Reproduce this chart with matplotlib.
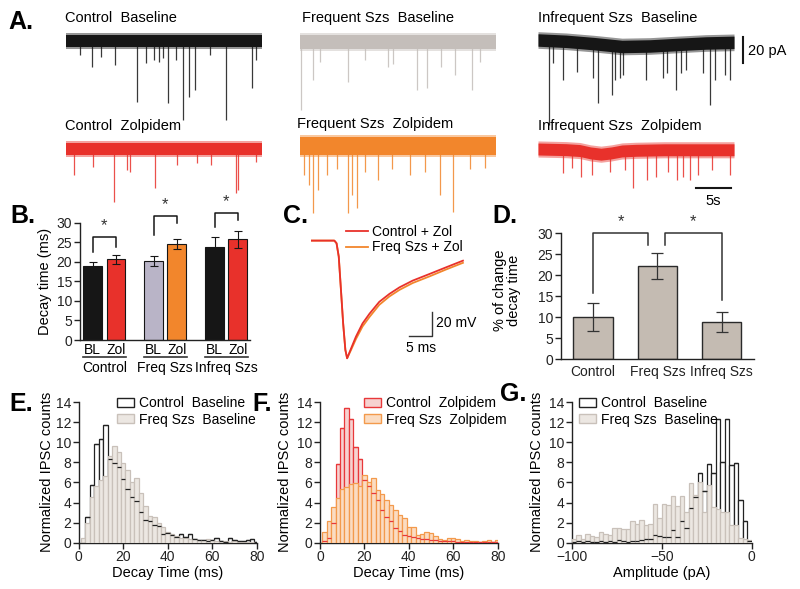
import matplotlib
matplotlib.use("Agg")
import matplotlib.pyplot as plt
from matplotlib.patches import Patch
from matplotlib.lines import Line2D
import numpy as np

plt.rcParams["font.family"] = ["Liberation Sans", "DejaVu Sans"]

W, H = 800, 589

BLACK = "#161616"
GRAY_TRACE = "#c4beba"
RED = "#e8312b"
ORANGE = "#f2862c"
LAVENDER = "#b9b4c7"
BEIGE = "#c4bbb2"

# ---------------- A. example traces (time in s, current in pA) ----------------
ctrl_bl_base_t = [0, 28]
ctrl_bl_base = [0, 0]
ctrl_bl_ev_t = [2.0, 3.7, 5.0, 7.0, 10.1, 11.4, 12.6, 13.3, 13.9, 14.6, 15.7, 16.7, 17.6,
                18.4, 20.6, 22.8, 26.5, 27.1]
ctrl_bl_ev_amp = [-10.8, -19.8, -12, -18.5, -46.7, -17, -14.6, -16, -13, -47.7, -14.6, -60.8,
                  -43, -37.7, -10.8, -60.8, -36, -14.6]

ctrl_zol_base_t = [0, 28]
ctrl_zol_base = [0, 0]
ctrl_zol_ev_t = [1.1, 3.8, 6.9, 8.7, 9.2, 12.7, 15.8, 18.7, 20.7, 24.3, 24.6, 27.2]
ctrl_zol_ev_amp = [-20, -13.8, -40.8, -16, -17.7, -30, -12.3, -10.8, -12.3, -33.8, -31.5, -10]

freq_bl_base_t = [0, 28]
freq_bl_base = [0, 0]
freq_bl_ev_t = [0.15, 1.8, 2.9, 6.9, 9.3, 12.6, 13.3, 16.7, 18.1, 20.2, 22.1, 24.5, 25.7]
freq_bl_ev_amp = [-52, -29, -15, -30.5, -14, -19, -17, -37, -35, -19, -25, -37, -15]

freq_zol_base_t = [0, 28]
freq_zol_base = [0, 0]
freq_zol_ev_t = [0.6, 1.3, 1.9, 2.6, 3.9, 5.3, 6.9, 7.4, 8.1, 9.3, 11.1, 13.1, 15.7, 17.9,
                 20.0, 21.9, 24.3, 26.4]
freq_zol_ev_amp = [-22, -30, -51.5, -34, -22, -18, -51.5, -37.7, -47.7, -20, -26, -18, -22,
                   -20, -37.7, -50.8, -18, -16.9]

infreq_bl_base_t = [0, 4, 8, 12, 16, 20, 24, 28]
infreq_bl_base = [0, -1.0, -2.8, -5.0, -4.6, -3.4, -2.3, -1.8]
infreq_bl_ev_t = [1.5, 2.1, 3.6, 5.5, 7.9, 8.6, 10.6, 11.0, 11.7, 12.1, 15.4, 17.9, 18.4, 19.7,
                  20.4, 21.2, 23.6, 24.6, 25.3, 26.7, 27.4]
infreq_bl_ev_amp = [-65, -17.7, -30.8, -24.6, -29, -48.5, -42.3, -30.8, -29, -27, -30.8, -29,
                    -25.4, -38.5, -25.4, -23, -25.4, -50, -30.8, -27, -30.8]

infreq_zol_base_t = [0, 4, 6, 7.5, 9, 10.5, 12, 14, 18, 22, 28]
infreq_zol_base = [0, -0.5, -1.2, -3.0, -4.0, -3.0, -1.5, -1.0, -0.6, -0.6, -0.6]
infreq_zol_ev_t = [3.6, 4.9, 6.2, 7.7, 10.3, 12.4, 13.6, 15.5, 16.9, 18.6, 19.8, 20.7, 21.7,
                   22.9, 24.9, 27.4]
infreq_zol_ev_amp = [-18.5, -14.6, -21.5, -20, -17.7, -16, -30, -23.8, -21.5, -17.7, -23.8,
                     -21.5, -23.8, -20, -16, -20]

# ---------------- B. decay time (ms) ----------------
b_groups = ["Control", "Freq Szs", "Infreq Szs"]
b_bl_mean = [18.8, 20.2, 23.9]
b_bl_sem = [1.2, 1.3, 2.4]
b_zol_mean = [20.6, 24.6, 25.8]
b_zol_sem = [1.1, 1.2, 2.2]
b_bl_colors = [BLACK, LAVENDER, BLACK]
b_zol_colors = [RED, ORANGE, RED]
b_bracket_top = [26.4, 31.7, 32.4]
b_bracket_left = [22.6, 26.9, 29.0]
b_bracket_right = [23.9, 29.8, 30.7]

# ---------------- C. averaged IPSCs ----------------
ipsc_t = [0, 5.3, 5.8, 6.3, 6.8, 7.3, 7.8, 8.2, 9.1, 10.2, 11.7, 13.3, 15.5, 17.8, 20.1,
          23.1, 26.9, 30.7, 34.5]
ctrl_zol_ipsc = [0, 0, -2.2, -13.3, -41, -69, -91, -98, -89.8, -80, -69, -60.8, -51, -44.4,
                 -38.9, -33.3, -27.8, -22.2, -16.7]
freq_zol_ipsc = [0, 0, -2.2, -13.3, -41, -69, -91, -98, -91, -82, -71.5, -63.5, -53.5, -46.5,
                 -41, -35.3, -29.8, -24, -18.5]

# ---------------- D. % change of decay time ----------------
d_groups = ["Control", "Freq Szs", "Infreq Szs"]
d_mean = [10.1, 22.2, 8.9]
d_sem = [3.4, 3.1, 2.4]

# ---------------- E/F. decay time histograms ----------------
decay_centers = np.arange(2, 81, 2)
e_ctrl_bl = [0.0, 2.6, 5.7, 9.8, 10.3, 11.7, 8.3, 7.9, 7.5, 6.3, 5.3, 4.5, 4.1, 3.1, 2.3, 2.2,
             1.8, 1.7, 0.9, 1.0, 0.8, 0.6, 0.9, 0.6, 0.9, 0.4, 0.3, 0.3, 0.2, 0.3, 0.5, 0.2,
             0.1, 0.5, 0.3, 0.2, 0.2, 0.3, 0.4, 0.1]
e_freq_bl = [0.5, 2.0, 4.5, 5.6, 6.2, 6.6, 8.6, 9.6, 9.0, 7.9, 7.2, 6.0, 6.4, 4.9, 3.7, 2.7,
             2.6, 2.0, 1.6, 1.1, 0.9, 0.7, 0.5, 0.5, 0.4, 0.4, 0.3, 0.3, 0.4, 0.3, 0.2, 0.2,
             0.2, 0.1, 0.2, 0.1, 0.1, 0.1, 0.1, 0.1]
f_ctrl_zol = [0.2, 0.5, 2.0, 7.8, 11.4, 13.4, 12.3, 9.5, 8.3, 6.2, 5.6, 4.9, 4.2, 3.3, 2.6,
              2.2, 1.5, 1.2, 0.8, 0.7, 0.6, 0.5, 0.4, 0.4, 0.3, 0.3, 0.2, 0.2, 0.2, 0.2, 0.1,
              0.1, 0.1, 0.1, 0.1, 0.1, 0.1, 0.1, 0.1, 0.1]
f_freq_zol = [1.1, 2.2, 3.6, 4.4, 5.3, 5.5, 5.8, 5.9, 5.6, 6.7, 6.0, 6.4, 5.2, 4.8, 4.2, 3.8,
              3.3, 2.8, 2.5, 1.6, 1.6, 0.8, 0.9, 1.1, 1.0, 0.7, 0.4, 0.3, 0.5, 0.5, 0.4, 0.2,
              0.3, 0.2, 0.2, 0.1, 0.2, 0.3, 0.1, 0.3]

# ---------------- G. amplitude histogram ----------------
amp_centers = np.arange(-98.75, 0, 2.5)
g_ctrl_bl = [0.1, 0.2, 0.1, 0.2, 0.1, 0.1, 0.2, 0.1, 0.2, 0.1, 0.3, 0.2, 0.1, 0.2, 0.2, 0.3,
             0.4, 0.4, 0.8, 0.7, 0.6, 0.6, 1.3, 0.6, 2.2, 1.5, 3.5, 4.5, 6.9, 5.1, 7.8, 6.9,
             12.3, 8.0, 12.3, 7.7, 7.9, 4.2, 2.2, 0.2]
g_freq_bl = [0.4, 0.8, 0.4, 0.9, 0.7, 0.6, 1.1, 0.9, 0.8, 1.5, 1.5, 1.4, 1.4, 2.2, 1.9, 2.3,
             1.8, 1.9, 3.9, 2.5, 3.9, 3.8, 4.6, 3.7, 4.6, 3.1, 5.9, 4.7, 6.0, 3.1, 5.7, 3.6,
             3.4, 3.1, 3.1, 1.8, 1.8, 0.5, 0.4, 0.3]


def px_axes(fig, left, top, right, bottom):
    return fig.add_axes([left / W, 1 - bottom / H, (right - left) / W, (bottom - top) / H])


def ftext(fig, x, y, s, **kw):
    kw.setdefault("va", "center")
    return fig.text(x / W, 1 - y / H, s, **kw)


def draw_trace(fig, x0, zero_y, color, base_t, base, half, ev_t, ev_amp):
    # 7 px per second, 1.3 px per pA
    ax = px_axes(fig, x0, zero_y - 15, x0 + 196, zero_y + 95)
    ax.set_xlim(0, 28)
    ax.set_ylim(-95 / 1.3, 15 / 1.3)
    ax.set_axis_off()
    base = np.asarray(base, float)
    ax.fill_between(base_t, base - half - 1.6, base + half + 1.6, color=color, lw=0, alpha=0.45)
    ax.fill_between(base_t, base - half, base + half, color=color, lw=0)
    start = np.interp(ev_t, base_t, base)
    ax.vlines(ev_t, ev_amp, start, color=color, lw=0.9, alpha=0.85)
    return ax


def hist_pair(ax, centers, back, front, width, back_edge, back_face, front_edge, front_face):
    ax.bar(centers, back, width, color=back_face, edgecolor=back_edge, lw=0.9, zorder=2)
    ax.bar(centers, front, width, color=front_face, edgecolor=front_edge, lw=0.9, zorder=3)
    ax.hlines(back, centers - width / 2, centers + width / 2, color=back_edge, lw=0.9, zorder=4)


def style_axes(ax):
    for side in ["top", "right"]:
        ax.spines[side].set_visible(False)
    for side in ["left", "bottom"]:
        ax.spines[side].set_linewidth(1.0)
        ax.spines[side].set_color("#222222")
    ax.tick_params(direction="out", length=4, width=1, labelsize=10, pad=1.5, colors="#222222")


def main():
    fig = plt.figure(figsize=(W / 100, H / 100), dpi=100)

    # ---- A ----
    ftext(fig, 8, 22, "A.", fontsize=18, fontweight="bold")
    draw_trace(fig, 66, 41, BLACK, ctrl_bl_base_t, ctrl_bl_base, 4.6, ctrl_bl_ev_t, ctrl_bl_ev_amp)
    draw_trace(fig, 66, 149, RED, ctrl_zol_base_t, ctrl_zol_base, 4.6, ctrl_zol_ev_t, ctrl_zol_ev_amp)
    draw_trace(fig, 300, 42, GRAY_TRACE, freq_bl_base_t, freq_bl_base, 5.6, freq_bl_ev_t, freq_bl_ev_amp)
    draw_trace(fig, 300, 146, ORANGE, freq_zol_base_t, freq_zol_base, 6.6, freq_zol_ev_t, freq_zol_ev_amp)
    ax_ib = draw_trace(fig, 538, 40, BLACK, infreq_bl_base_t, infreq_bl_base, 4.8,
                       infreq_bl_ev_t, infreq_bl_ev_amp)
    ax_iz = draw_trace(fig, 538, 149, RED, infreq_zol_base_t, infreq_zol_base, 4.6,
                       infreq_zol_ev_t, infreq_zol_ev_amp)
    ax_ib.plot([29.3, 29.3], [2.3, -17.7], color=BLACK, lw=1.5, clip_on=False)
    ax_iz.plot([22.6, 27.6], [-30, -30], color=BLACK, lw=1.5, clip_on=False)
    ftext(fig, 748, 51, "20 pA", fontsize=10.5)
    ftext(fig, 713, 201, "5s", fontsize=10.5, ha="center")

    ts = 10.5
    ftext(fig, 65, 18, "Control  Baseline", fontsize=ts)
    ftext(fig, 65, 126, "Control  Zolpidem", fontsize=ts)
    ftext(fig, 302, 18, "Frequent Szs  Baseline", fontsize=ts)
    ftext(fig, 297, 124, "Frequent Szs  Zolpidem", fontsize=ts)
    ftext(fig, 538, 18, "Infrequent Szs  Baseline", fontsize=ts)
    ftext(fig, 538, 126, "Infrequent Szs  Zolpidem", fontsize=ts)

    # ---- B ----
    ftext(fig, 10, 216, "B.", fontsize=18, fontweight="bold")
    axb = px_axes(fig, 80, 222.7, 250, 340)
    style_axes(axb)
    gx = np.arange(len(b_groups))
    off, bw = 0.19, 0.31
    axb.bar(gx - off, b_bl_mean, bw, color=b_bl_colors, edgecolor=BLACK, lw=0.8,
            yerr=b_bl_sem, error_kw=dict(ecolor=BLACK, elinewidth=0.8, capsize=3, capthick=0.8))
    axb.bar(gx + off, b_zol_mean, bw, color=b_zol_colors, edgecolor=BLACK, lw=0.8,
            yerr=b_zol_sem, error_kw=dict(ecolor=BLACK, elinewidth=0.8, capsize=3, capthick=0.8))
    axb.set_xlim(-0.40, 2.39)
    axb.set_ylim(0, 30)
    axb.set_yticks(range(0, 31, 5))
    axb.set_xticks([])
    axb.set_ylabel("Decay time (ms)", fontsize=10.5)
    axb.yaxis.set_label_coords(-0.165, 0.5)
    tr = axb.get_xaxis_transform()
    for i, g in enumerate(b_groups):
        xl, xr = i - off, i + off
        axb.plot([xl, xl, xr, xr], [b_bracket_left[i], b_bracket_top[i], b_bracket_top[i],
                                    b_bracket_right[i]], color=BLACK, lw=1.1, clip_on=False)
        axb.text(i, b_bracket_top[i] + 1.0, "*", ha="center", va="bottom", fontsize=12,
                 color="#333333")
        axb.text(xl, -0.085, "BL", transform=tr, ha="center", va="center", fontsize=10)
        axb.text(xr, -0.085, "Zol", transform=tr, ha="center", va="center", fontsize=10)
        axb.plot([i - 0.35, i + 0.35], [-0.145, -0.145], transform=tr, color="#333333",
                 lw=1.2, clip_on=False)
        axb.text(i, -0.24, g, transform=tr, ha="center", va="center", fontsize=10)

    # ---- C ----
    ftext(fig, 283, 216, "C.", fontsize=18, fontweight="bold")
    axc = px_axes(fig, 311, 225, 470, 365)
    axc.set_xlim(0, 36.1)
    axc.set_ylim(-103.6, 13)
    axc.set_axis_off()
    axc.plot(ipsc_t, freq_zol_ipsc, color=ORANGE, lw=1.3)
    axc.plot(ipsc_t, ctrl_zol_ipsc, color=RED, lw=1.3)
    axc.plot([27.4, 27.4, 22.3], [-59.2, -79.2, -79.2], color="#333333", lw=1.0)
    axc.text(28.4, -69, "20 mV", fontsize=10, va="center")
    axc.text(24.9, -84, "5 ms", fontsize=10, va="top", ha="center")
    handles = [Line2D([], [], color=RED, lw=1.3), Line2D([], [], color=ORANGE, lw=1.3)]
    axc.legend(handles, ["Control + Zol", "Freq Szs + Zol"], loc="upper left",
               bbox_to_anchor=(346 / W, 1 - 225 / H), bbox_transform=fig.transFigure,
               frameon=False, fontsize=10, handlelength=1.6, handletextpad=0.3,
               labelspacing=0.1, borderpad=0, borderaxespad=0)

    # ---- D ----
    ftext(fig, 492, 216, "D.", fontsize=18, fontweight="bold")
    axd = px_axes(fig, 560.7, 233.3, 754, 359.3)
    style_axes(axd)
    dx = np.arange(len(d_groups))
    axd.bar(dx, d_mean, 0.61, color=BEIGE, edgecolor="#2a2a2a", lw=1.0, yerr=d_sem,
            error_kw=dict(ecolor="#333333", elinewidth=0.9, capsize=4, capthick=0.9))
    axd.set_xlim(-0.5, 2.5)
    axd.set_ylim(0, 30)
    axd.set_yticks(range(0, 31, 5))
    axd.set_xticks(dx)
    axd.set_xticklabels(d_groups)
    axd.tick_params(axis="x", length=0, pad=4)
    axd.set_ylabel("% of change\ndecay time", fontsize=10.5, linespacing=1.0)
    axd.yaxis.set_label_coords(-0.205, 0.55)
    d_pairs = [(0, 0.86, 15.7, 27.2), (1.12, 2, 27.2, 14.1)]
    for xl, xr, yl, yr in d_pairs:
        axd.plot([xl, xl, xr, xr], [yl, 30, 30, yr], color="#333333", lw=1.1, clip_on=False)
        axd.text((xl + xr) / 2, 31.0, "*", ha="center", va="bottom", fontsize=12, color="#333333")

    # ---- E / F / G ----
    hist_axes = []
    for left, right in [(78.7, 256.7), (320, 497.7), (571.7, 751.7)]:
        ax = px_axes(fig, left, 402, right, 542.7)
        style_axes(ax)
        ax.set_ylim(0, 14)
        ax.set_yticks(range(0, 15, 2))
        ax.set_ylabel("Normalized IPSC counts", fontsize=10.5)
        hist_axes.append(ax)
    axe, axf, axg = hist_axes

    ftext(fig, 9, 404, "E.", fontsize=18, fontweight="bold")
    hist_pair(axe, decay_centers, e_ctrl_bl, e_freq_bl, 2.0, "#222222", "white", "#c9c1ba", "#ece7e2")
    ftext(fig, 252, 404, "F.", fontsize=18, fontweight="bold")
    hist_pair(axf, decay_centers, f_ctrl_zol, f_freq_zol, 2.0, "#e8383a", "#f6d2d0", "#f39a4c", "#fbdcc2")
    ftext(fig, 500, 394, "G.", fontsize=18, fontweight="bold")
    hist_pair(axg, amp_centers, g_ctrl_bl, g_freq_bl, 2.5, "#222222", "white", "#c9c1ba", "#ece7e2")

    for ax in (axe, axf):
        ax.set_xlim(0, 80)
        ax.set_xticks(range(0, 81, 20))
        ax.set_xlabel("Decay Time (ms)", fontsize=10.5, labelpad=1)
    axg.set_xlim(-100, 0)
    axg.set_xticks([-100, -50, 0])
    axg.set_xlabel("Amplitude (pA)", fontsize=10.5, labelpad=1)
    axe.yaxis.set_label_coords(-0.14, 0.5)
    axf.yaxis.set_label_coords(-0.158, 0.5)
    axg.yaxis.set_label_coords(-0.154, 0.5)

    legends = [
        (axe, 117, ["Control  Baseline", "Freq Szs  Baseline"], [("#222222", "white"), ("#c9c1ba", "#ece7e2")]),
        (axf, 364, ["Control  Zolpidem", "Freq Szs  Zolpidem"], [("#e8383a", "#f6d2d0"), ("#f39a4c", "#fbdcc2")]),
        (axg, 579, ["Control  Baseline", "Freq Szs  Baseline"], [("#222222", "white"), ("#c9c1ba", "#ece7e2")]),
    ]
    for ax, lx, labels, cols in legends:
        hs = [Patch(facecolor=fc, edgecolor=ec, lw=1.0) for ec, fc in cols]
        ax.legend(hs, labels, loc="upper left", bbox_to_anchor=(lx / W, 1 - 396 / H),
                  bbox_transform=fig.transFigure, frameon=False, fontsize=10,
                  handlelength=1.2, handleheight=0.6, handletextpad=0.35, labelspacing=0.2,
                  borderpad=0, borderaxespad=0)

    fig.savefig("out.png", dpi=100)
    plt.close(fig)


if __name__ == "__main__":
    main()
